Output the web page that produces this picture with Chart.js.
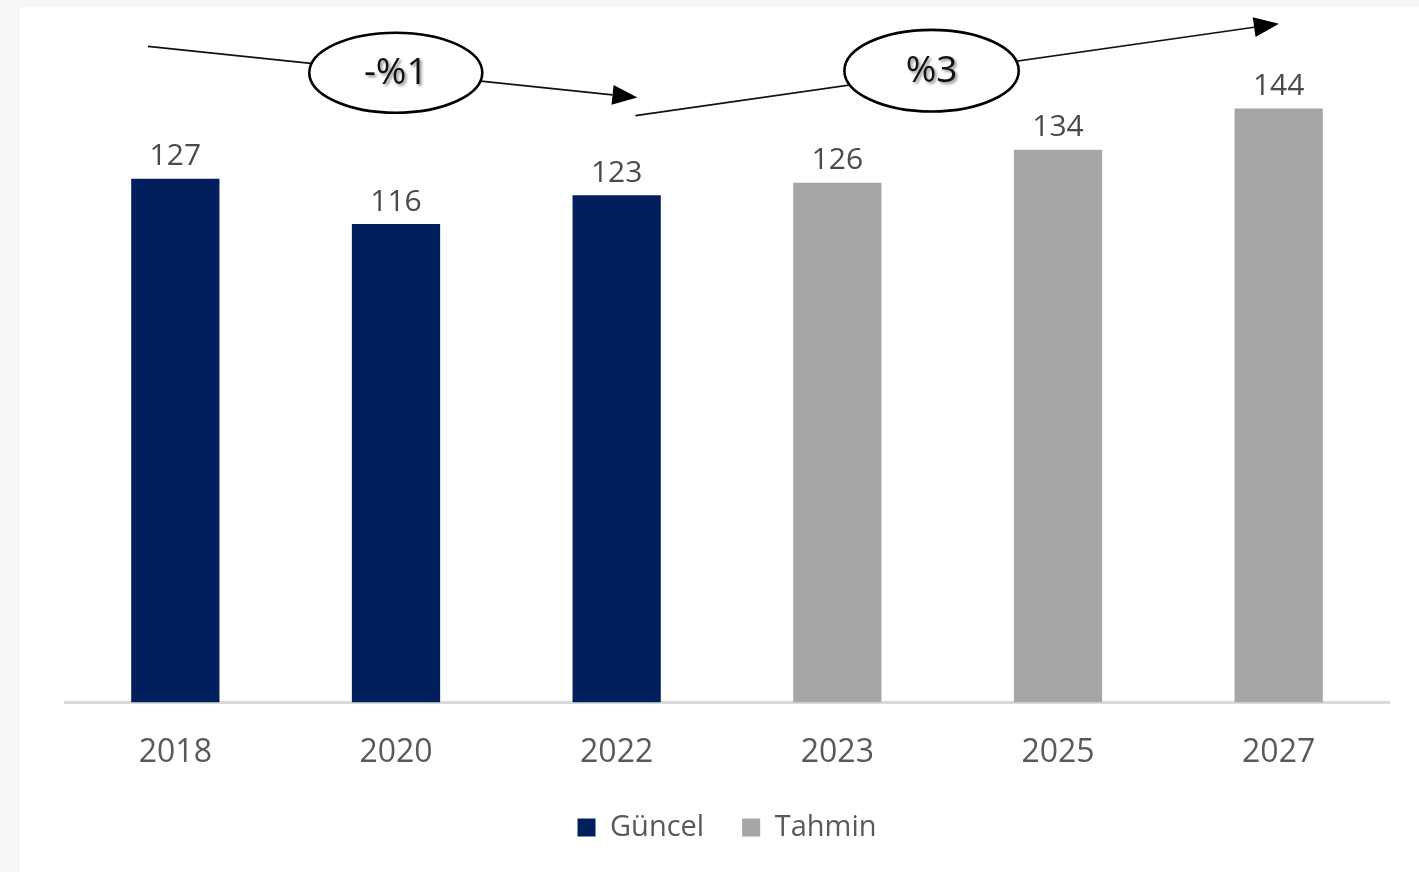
<!DOCTYPE html>
<html>
<head>
<meta charset="utf-8">
<script src="https://cdn.jsdelivr.net/npm/chart.js@4.4.1/dist/chart.umd.min.js"></script>
<style>
  html, body { margin: 0; padding: 0; background: #f6f6f6; }
  body { width: 1419px; height: 872px; position: relative; overflow: hidden; }
  #panel { position: absolute; left: 20px; top: 7px; width: 1399px; height: 865px; background: #ffffff; }
  canvas { display: block; }
</style>
</head>
<body>
<div id="panel"><canvas id="c"></canvas></div>
<script>
const categories = ['2018', '2020', '2022', '2023', '2025', '2027'];
const guncel = [127, 116, 123, null, null, null];
const tahmin = [null, null, null, 126, 134, 144];
const seriesNames = ['Güncel', 'Tahmin'];
const growthLabels = ['-%1', '%3'];

const FONT = "'Open Sans', 'Noto Sans', sans-serif";

// growth arrows, in category-index / value units
const growthArrows = [
  { from: [-0.124, 159.1], to: [2.094, 146.7], center: [0.999, 152.7], rx: 0.392, ry: 9.7 },
  { from: [2.085, 142.3], to: [5.001, 164.6], center: [3.427, 153.2], rx: 0.395, ry: 9.9 }
];

const valueLabels = {
  id: 'valueLabels',
  afterDatasetsDraw(chart) {
    const ctx = chart.ctx;
    ctx.save();
    ctx.font = '30px ' + FONT;
    ctx.fillStyle = '#4a4a4a';
    ctx.textAlign = 'center';
    ctx.textBaseline = 'bottom';
    chart.data.datasets.forEach((ds, di) => {
      const meta = chart.getDatasetMeta(di);
      meta.data.forEach((bar, i) => {
        const v = ds.data[i];
        if (v === null || v === undefined) return;
        ctx.fillText(String(v), bar.x, bar.y - 7);
      });
    });
    ctx.restore();
  }
};

const arrowsPlugin = {
  id: 'growthArrows',
  afterDraw(chart) {
    const ctx = chart.ctx;
    const xs = chart.scales.x, ys = chart.scales.y;
    const px = v => xs.getPixelForValue(v);
    const py = v => ys.getPixelForValue(v);
    ctx.save();
    growthArrows.forEach((a, k) => {
      const x1 = px(a.from[0]), y1 = py(a.from[1]);
      const x2 = px(a.to[0]), y2 = py(a.to[1]);
      const ang = Math.atan2(y2 - y1, x2 - x1);
      const headLen = 25, headHalf = 10;
      const bx = x2 - headLen * Math.cos(ang), by = y2 - headLen * Math.sin(ang);
      ctx.strokeStyle = '#111';
      ctx.lineWidth = 1.6;
      ctx.beginPath();
      ctx.moveTo(x1, y1);
      ctx.lineTo(bx, by);
      ctx.stroke();
      ctx.fillStyle = '#000';
      ctx.beginPath();
      ctx.moveTo(x2, y2);
      ctx.lineTo(bx + headHalf * Math.sin(ang), by - headHalf * Math.cos(ang));
      ctx.lineTo(bx - headHalf * Math.sin(ang), by + headHalf * Math.cos(ang));
      ctx.closePath();
      ctx.fill();

      const cx = px(a.center[0]), cy = py(a.center[1]);
      const rx = px(a.center[0] + a.rx) - cx;
      const ry = py(a.center[1] - a.ry) - cy;
      ctx.beginPath();
      ctx.ellipse(cx, cy, rx, ry, 0, 0, Math.PI * 2);
      ctx.fillStyle = '#fff';
      ctx.fill();
      ctx.lineWidth = 2.6;
      ctx.strokeStyle = '#000';
      ctx.stroke();

      ctx.save();
      ctx.shadowColor = 'rgba(0,0,0,0.45)';
      ctx.shadowBlur = 3;
      ctx.shadowOffsetX = 2;
      ctx.shadowOffsetY = 2;
      ctx.fillStyle = '#111';
      ctx.font = '37px ' + FONT;
      ctx.textAlign = 'center';
      ctx.textBaseline = 'middle';
      ctx.fillText(growthLabels[k], cx, cy + 1);
      ctx.restore();
    });
    ctx.restore();
  }
};

new Chart(document.getElementById('c'), {
  type: 'bar',
  data: {
    labels: categories,
    datasets: [
      { label: seriesNames[0], data: guncel, backgroundColor: '#001f5c', barPercentage: 0.4, categoryPercentage: 1 },
      { label: seriesNames[1], data: tahmin, backgroundColor: '#a6a6a6', barPercentage: 0.4, categoryPercentage: 1 }
    ]
  },
  options: {
    responsive: true,
    maintainAspectRatio: false,
    animation: false,
    layout: { padding: { left: 45, right: 30, top: 15, bottom: 20 } },
    scales: {
      x: {
        stacked: true,
        grid: { display: false, drawTicks: false },
        border: { display: true, color: '#d9d9d9', width: 3 },
        ticks: { color: '#595959', font: { family: FONT, size: 32 }, padding: 31 },
        afterFit(axis) { axis.height -= 28; }
      },
      y: {
        stacked: true,
        display: false,
        min: 0,
        max: 165
      }
    },
    plugins: {
      legend: {
        position: 'bottom',
        labels: {
          color: '#595959',
          font: { family: FONT, size: 29 },
          boxWidth: 18,
          boxHeight: 18,
          padding: 38
        }
      },
      tooltip: { enabled: false }
    }
  },
  plugins: [valueLabels, arrowsPlugin]
});
</script>
</body>
</html>
